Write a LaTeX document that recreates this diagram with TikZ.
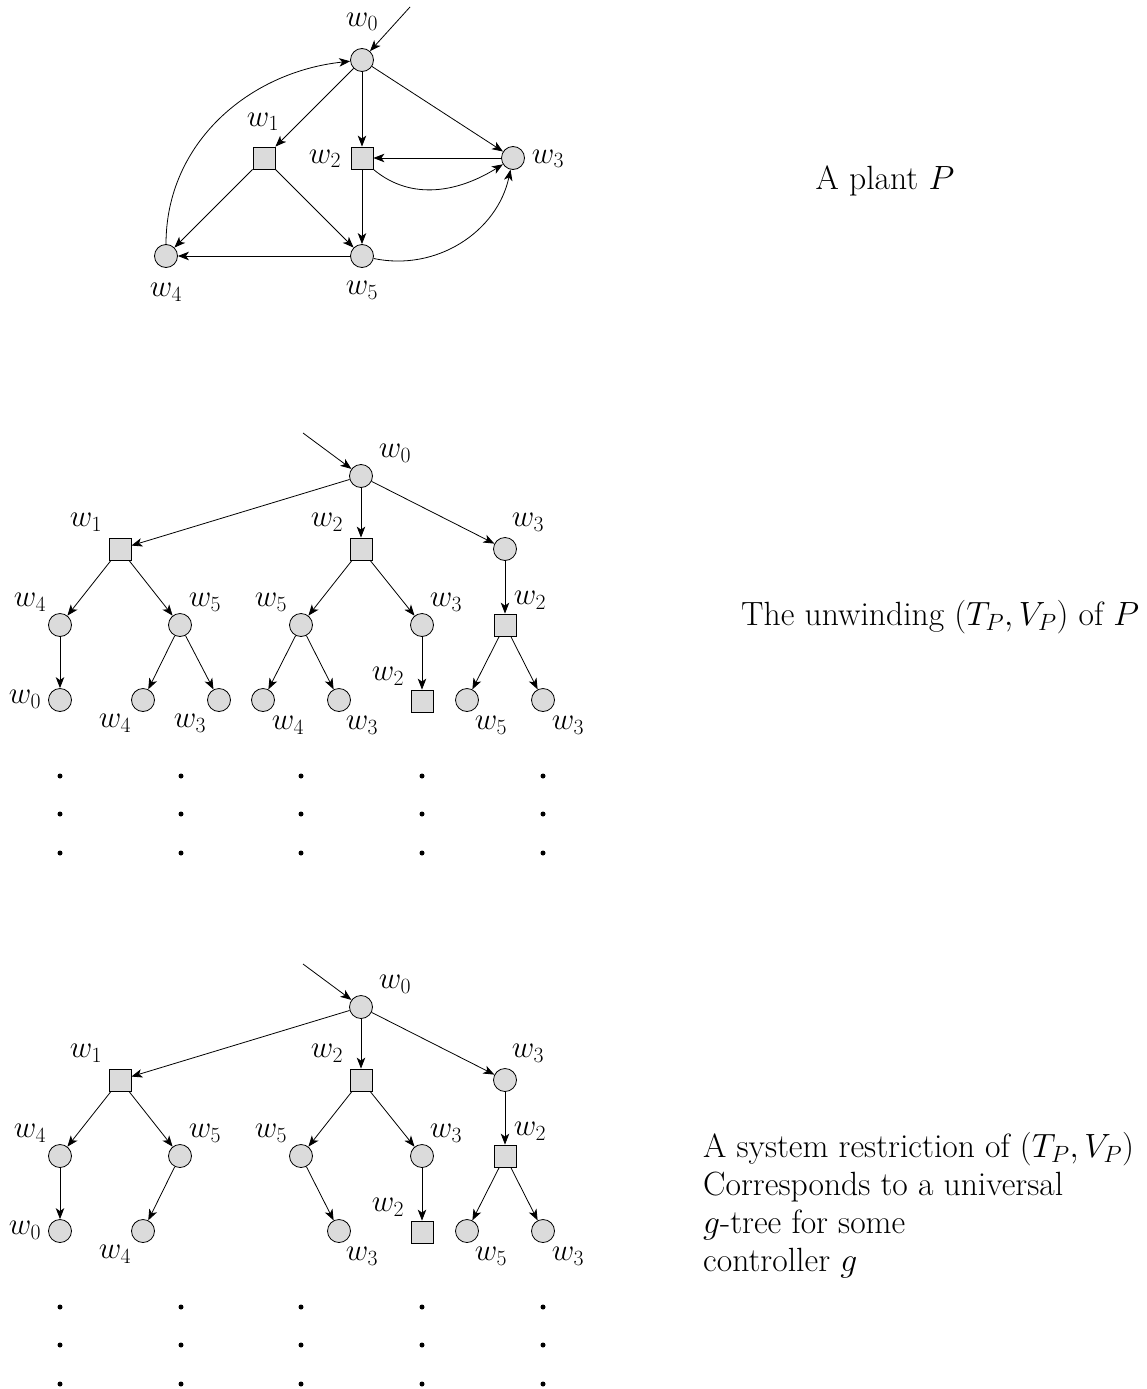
\RequirePackage{fix-cm}
\documentclass[tikz,border=0pt]{standalone}
\usetikzlibrary{arrows.meta}
\begin{document}
\begin{tikzpicture}[x=1pt,y=-1pt,
  every node/.style={font=\fontsize{31}{38}\selectfont},
  side/.style={font=\fontsize{33.6}{38}\selectfont},
  st/.style={circle, draw, fill=gray!28, minimum size=23pt, inner sep=0pt, line width=0.8pt},
  sq/.style={rectangle, draw, fill=gray!28, minimum size=22pt, inner sep=0pt, line width=0.8pt},
  lab/.style={inner sep=0pt},
  edg/.style={-{Stealth[length=11pt,width=8.5pt,inset=3pt]}, line width=0.8pt},
  dotn/.style={circle, fill=black, minimum size=5pt, inner sep=0pt}]
\useasboundingbox (0,0) rectangle (1147,1389);

% ---------- Plant P ----------
\node[st] (p0) at (362,60) {};
\node[sq] (p1) at (264,158) {};
\node[sq] (p2) at (362,158) {};
\node[st] (p3) at (513,158) {};
\node[st] (p4) at (166,256) {};
\node[st] (p5) at (362,256) {};
\coordinate (pin) at (410,7);
\node[lab] (pl0) at (362,22) {$w_0$};
\node[lab] (pl1) at (263,122) {$w_1$};
\node[lab] (pl2) at (325,159) {$w_2$};
\node[lab] (pl3) at (548,159) {$w_3$};
\node[lab] (pl4) at (166,292) {$w_4$};
\node[lab] (pl5) at (362,290) {$w_5$};
\draw[edg] (pin) -- (p0);
\draw[edg] (p0) -- (p1);
\draw[edg] (p0) -- (p2);
\draw[edg] (p0) -- (p3);
\draw[edg] (p3) -- (p2);
\draw[edg] (p2.south east) to[out=-40,in=212] (p3);
\draw[edg] (p2) -- (p5);
\draw[edg] (p1) -- (p4);
\draw[edg] (p1) -- (p5);
\draw[edg] (p5) -- (p4);
\draw[edg] (p4) to[out=90,in=186] (p0);
\draw[edg] (p5) to[out=-12,in=-102] (p3);
\node[side] (tp) at (885,181) {A plant $P$};

% ---------- Unwinding ----------
\node[st] (a0) at (361,476) {};
\coordinate (ain) at (303,433);
\node[sq] (a1) at (120,549) {};
\node[sq] (a2) at (361,549) {};
\node[st] (a3) at (505,549) {};
\node[st] (a14) at (60,625) {};
\node[st] (a15) at (180,625) {};
\node[st] (a25) at (301,625) {};
\node[st] (a23) at (422,625) {};
\node[sq] (a32) at (505,625) {};
\node[st] (a140) at (60,700) {};
\node[st] (a154) at (143,700) {};
\node[st] (a153) at (219,700) {};
\node[st] (a254) at (263,700) {};
\node[st] (a253) at (339,700) {};
\node[sq] (a232) at (422,701) {};
\node[st] (a325) at (467,700) {};
\node[st] (a323) at (543,700) {};
\draw[edg] (ain) -- (a0);
\draw[edg] (a0) -- (a1);
\draw[edg] (a0) -- (a2);
\draw[edg] (a0) -- (a3);
\draw[edg] (a1) -- (a14);
\draw[edg] (a1) -- (a15);
\draw[edg] (a2) -- (a25);
\draw[edg] (a2) -- (a23);
\draw[edg] (a3) -- (a32);
\draw[edg] (a14) -- (a140);
\draw[edg] (a15) -- (a154);
\draw[edg] (a15) -- (a153);
\draw[edg] (a25) -- (a254);
\draw[edg] (a25) -- (a253);
\draw[edg] (a23) -- (a232);
\draw[edg] (a32) -- (a325);
\draw[edg] (a32) -- (a323);
\node[lab] (al0) at (395,453) {$w_0$};
\node[lab] (al1) at (86,522) {$w_1$};
\node[lab] (al2) at (327,522) {$w_2$};
\node[lab] (al3) at (528,522) {$w_3$};
\node[lab] (al14) at (30,602) {$w_4$};
\node[lab] (al15) at (205,602) {$w_5$};
\node[lab] (al25) at (271,602) {$w_5$};
\node[lab] (al23) at (446,602) {$w_3$};
\node[lab] (al32) at (530,600) {$w_2$};
\node[lab] (al140) at (25,699) {$w_0$};
\node[lab] (al154) at (115,723) {$w_4$};
\node[lab] (al153) at (190,723) {$w_3$};
\node[lab] (al254) at (288,725) {$w_4$};
\node[lab] (al253) at (362,725) {$w_3$};
\node[lab] (al232) at (388,676) {$w_2$};
\node[lab] (al325) at (491,725) {$w_5$};
\node[lab] (al323) at (568,725) {$w_3$};
\foreach \i/\x in {1/60,2/181,3/301,4/422,5/543}{
  \node[dotn] (ad\i a) at (\x,776) {};
  \node[dotn] (ad\i b) at (\x,814) {};
  \node[dotn] (ad\i c) at (\x,853) {};
}
\node[side, anchor=west, inner sep=0pt] (tu) at (741,617) {The unwinding $(T_P,V_P)$ of $P$};

% ---------- System restriction ----------
\begin{scope}[yshift=-531pt]
\node[st] (b0) at (361,476) {};
\coordinate (bin) at (303,433);
\node[sq] (b1) at (120,549) {};
\node[sq] (b2) at (361,549) {};
\node[st] (b3) at (505,549) {};
\node[st] (b14) at (60,625) {};
\node[st] (b15) at (180,625) {};
\node[st] (b25) at (301,625) {};
\node[st] (b23) at (422,625) {};
\node[sq] (b32) at (505,625) {};
\node[st] (b140) at (60,700) {};
\node[st] (b154) at (143,700) {};
\node[st] (b253) at (339,700) {};
\node[sq] (b232) at (422,701) {};
\node[st] (b325) at (467,700) {};
\node[st] (b323) at (543,700) {};
\draw[edg] (bin) -- (b0);
\draw[edg] (b0) -- (b1);
\draw[edg] (b0) -- (b2);
\draw[edg] (b0) -- (b3);
\draw[edg] (b1) -- (b14);
\draw[edg] (b1) -- (b15);
\draw[edg] (b2) -- (b25);
\draw[edg] (b2) -- (b23);
\draw[edg] (b3) -- (b32);
\draw[edg] (b14) -- (b140);
\draw[edg] (b15) -- (b154);
\draw[edg] (b25) -- (b253);
\draw[edg] (b23) -- (b232);
\draw[edg] (b32) -- (b325);
\draw[edg] (b32) -- (b323);
\node[lab] (bl0) at (395,453) {$w_0$};
\node[lab] (bl1) at (86,522) {$w_1$};
\node[lab] (bl2) at (327,522) {$w_2$};
\node[lab] (bl3) at (528,522) {$w_3$};
\node[lab] (bl14) at (30,602) {$w_4$};
\node[lab] (bl15) at (205,602) {$w_5$};
\node[lab] (bl25) at (271,602) {$w_5$};
\node[lab] (bl23) at (446,602) {$w_3$};
\node[lab] (bl32) at (530,600) {$w_2$};
\node[lab] (bl140) at (25,699) {$w_0$};
\node[lab] (bl154) at (115,723) {$w_4$};
\node[lab] (bl253) at (362,725) {$w_3$};
\node[lab] (bl232) at (388,676) {$w_2$};
\node[lab] (bl325) at (491,725) {$w_5$};
\node[lab] (bl323) at (568,725) {$w_3$};
\foreach \i/\x in {1/60,2/181,3/301,4/422,5/543}{
  \node[dotn] (bd\i a) at (\x,776) {};
  \node[dotn] (bd\i b) at (\x,814) {};
  \node[dotn] (bd\i c) at (\x,853) {};
}
\end{scope}
\node[side, anchor=west, align=left, inner sep=0pt] (ts) at (703,1205)
  {A system restriction of $(T_P,V_P)$\\Corresponds to a universal\\$g$-tree for some\\controller $g$};
\end{tikzpicture}
\end{document}
